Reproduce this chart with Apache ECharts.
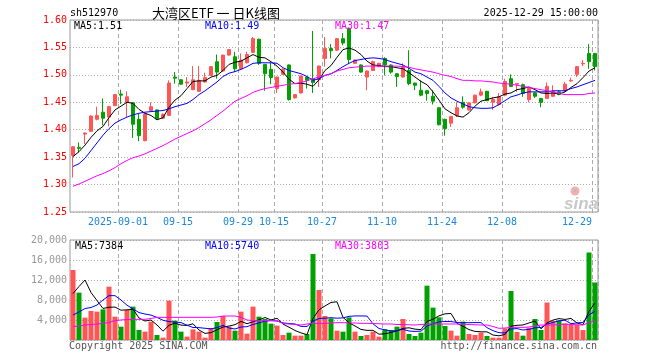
<!DOCTYPE html>
<html><head><meta charset="utf-8">
<script src="https://cdn.jsdelivr.net/npm/echarts@6/dist/echarts.min.js"></script>
<style>html,body{margin:0;padding:0;background:#fff}#c{width:660px;height:360px}</style>
</head><body><div id="c"></div>
<script>
const dates = ['2025-08-20','2025-08-21','2025-08-22','2025-08-25','2025-08-26','2025-08-27','2025-08-28','2025-08-29',
'2025-09-01','2025-09-02','2025-09-03','2025-09-04','2025-09-05','2025-09-08','2025-09-09','2025-09-10','2025-09-11','2025-09-12',
'2025-09-15','2025-09-16','2025-09-17','2025-09-18','2025-09-19','2025-09-22','2025-09-23','2025-09-24','2025-09-25','2025-09-26',
'2025-09-29','2025-09-30','2025-10-09','2025-10-10','2025-10-13','2025-10-14','2025-10-15','2025-10-16','2025-10-17','2025-10-20',
'2025-10-21','2025-10-22','2025-10-23','2025-10-24','2025-10-27','2025-10-28','2025-10-29','2025-10-30','2025-10-31','2025-11-03',
'2025-11-04','2025-11-05','2025-11-06','2025-11-07','2025-11-10','2025-11-11','2025-11-12','2025-11-13','2025-11-14','2025-11-17',
'2025-11-18','2025-11-19','2025-11-20','2025-11-21','2025-11-24','2025-11-25','2025-11-26','2025-11-27','2025-11-28','2025-12-01',
'2025-12-02','2025-12-03','2025-12-04','2025-12-05','2025-12-08','2025-12-09','2025-12-10','2025-12-11','2025-12-12','2025-12-15',
'2025-12-16','2025-12-17','2025-12-18','2025-12-19','2025-12-22','2025-12-23','2025-12-24','2025-12-25','2025-12-26','2025-12-29'];

const open = [1.353,1.368,1.392,1.397,1.419,1.432,1.423,1.444,1.465,1.450,
1.449,1.419,1.380,1.435,1.436,1.421,1.426,1.496,1.491,1.485,
1.473,1.470,1.487,1.499,1.524,1.507,1.536,1.533,1.511,1.522,
1.541,1.565,1.519,1.510,1.475,1.501,1.518,1.458,1.467,1.496,
1.493,1.491,1.530,1.548,1.545,1.566,1.585,1.521,1.518,1.496,
1.508,1.515,1.530,1.518,1.502,1.496,1.508,1.485,1.472,1.471,
1.461,1.440,1.419,1.412,1.426,1.450,1.436,1.449,1.463,1.470,
1.450,1.446,1.463,1.493,1.483,1.482,1.455,1.467,1.457,1.457,
1.461,1.469,1.471,1.489,1.501,1.520,1.539,1.539];
const close = [1.369,1.366,1.394,1.425,1.426,1.421,1.442,1.464,1.463,1.460,
1.410,1.389,1.429,1.442,1.420,1.428,1.485,1.494,1.483,1.487,
1.491,1.490,1.495,1.515,1.505,1.536,1.546,1.511,1.527,1.537,
1.566,1.521,1.502,1.495,1.496,1.510,1.455,1.464,1.498,1.490,
1.486,1.516,1.548,1.544,1.566,1.558,1.528,1.527,1.505,1.507,
1.524,1.521,1.518,1.505,1.497,1.515,1.484,1.481,1.463,1.466,
1.452,1.409,1.402,1.424,1.440,1.441,1.449,1.463,1.469,1.453,
1.455,1.460,1.488,1.479,1.484,1.466,1.475,1.461,1.450,1.479,
1.470,1.464,1.483,1.490,1.515,1.521,1.524,1.515];
const low = [1.313,1.359,1.374,1.396,1.417,1.408,1.406,1.443,1.447,1.423,
1.385,1.379,1.379,1.434,1.419,1.420,1.426,1.484,1.482,1.478,
1.472,1.469,1.486,1.498,1.493,1.506,1.535,1.505,1.510,1.521,
1.540,1.518,1.471,1.483,1.467,1.500,1.453,1.457,1.466,1.475,
1.467,1.478,1.515,1.530,1.544,1.554,1.521,1.520,1.504,1.472,
1.507,1.514,1.499,1.502,1.478,1.495,1.481,1.472,1.461,1.453,
1.446,1.408,1.389,1.405,1.423,1.438,1.435,1.448,1.461,1.452,
1.436,1.444,1.461,1.478,1.469,1.460,1.450,1.458,1.441,1.456,
1.460,1.463,1.469,1.487,1.496,1.516,1.511,1.508];
const high = [1.369,1.377,1.395,1.426,1.442,1.457,1.443,1.465,1.473,1.470,
1.450,1.429,1.430,1.450,1.437,1.430,1.490,1.505,1.492,1.496,
1.516,1.516,1.504,1.516,1.537,1.537,1.547,1.542,1.539,1.542,
1.569,1.566,1.520,1.522,1.497,1.512,1.519,1.465,1.499,1.497,
1.580,1.517,1.569,1.556,1.567,1.576,1.586,1.528,1.519,1.508,
1.526,1.522,1.532,1.519,1.503,1.521,1.545,1.486,1.490,1.472,
1.472,1.441,1.420,1.425,1.450,1.461,1.450,1.464,1.475,1.471,
1.460,1.467,1.493,1.501,1.485,1.484,1.476,1.468,1.458,1.486,
1.481,1.472,1.487,1.495,1.516,1.527,1.556,1.540];

const ma5 = [1.351,1.360,1.372,1.386,1.398,1.406,1.422,1.436,1.443,1.450,
1.448,1.437,1.430,1.426,1.418,1.422,1.441,1.454,1.462,1.475,
1.488,1.489,1.489,1.496,1.499,1.508,1.519,1.523,1.525,1.531,
1.537,1.532,1.531,1.524,1.516,1.505,1.492,1.484,1.485,1.483,
1.479,1.491,1.508,1.517,1.532,1.546,1.549,1.545,1.537,1.525,
1.518,1.517,1.515,1.515,1.513,1.511,1.504,1.496,1.488,1.482,
1.469,1.454,1.438,1.431,1.425,1.423,1.431,1.443,1.452,1.455,
1.458,1.460,1.465,1.467,1.473,1.475,1.478,1.473,1.467,1.466,
1.467,1.465,1.469,1.477,1.484,1.495,1.507,1.513];
const ma10 = [1.333,1.338,1.348,1.362,1.376,1.390,1.402,1.412,1.418,1.423,
1.427,1.430,1.432,1.433,1.434,1.435,1.438,1.442,1.445,1.448,
1.455,1.464,1.471,1.479,1.487,1.497,1.503,1.506,1.510,1.515,
1.521,1.522,1.522,1.522,1.521,1.513,1.508,1.505,1.502,1.497,
1.490,1.493,1.499,1.502,1.508,1.515,1.521,1.526,1.528,1.530,
1.531,1.530,1.528,1.524,1.521,1.518,1.512,1.505,1.502,1.496,
1.490,1.479,1.467,1.458,1.452,1.447,1.442,1.440,1.439,1.439,
1.440,1.446,1.453,1.460,1.463,1.467,1.469,1.469,1.469,1.469,
1.471,1.471,1.471,1.475,1.478,1.482,1.486,1.490];
const ma30 = [1.297,1.301,1.306,1.311,1.316,1.320,1.325,1.331,1.338,1.344,
1.349,1.352,1.356,1.361,1.366,1.371,1.377,1.383,1.388,1.393,
1.398,1.404,1.411,1.418,1.426,1.434,1.443,1.452,1.457,1.462,
1.468,1.472,1.475,1.477,1.479,1.481,1.483,1.484,1.486,1.489,
1.493,1.496,1.499,1.502,1.507,1.510,1.513,1.514,1.515,1.516,
1.516,1.516,1.516,1.516,1.516,1.515,1.514,1.511,1.509,1.507,
1.505,1.502,1.499,1.497,1.493,1.490,1.490,1.489,1.489,1.488,
1.487,1.485,1.484,1.483,1.481,1.479,1.477,1.475,1.473,1.471,
1.469,1.466,1.464,1.464,1.464,1.464,1.466,1.467];

const volume = [14000,9470,4470,5800,5670,6130,10670,4670,2670,6000,
6670,2000,1670,3670,1000,470,7870,3870,1670,670,
2130,1670,470,2400,3600,4800,2670,1870,5670,1270,
6670,4670,4200,3270,2870,1000,1470,870,870,1200,
17200,10000,4800,4330,1870,1670,4530,1670,800,1000,
1670,670,2130,2000,2670,4200,1200,800,1470,10870,
6470,4530,2800,1870,870,3670,1200,1000,1470,800,
470,470,2330,9800,1600,870,2470,4200,2000,7500,
3800,3900,3330,3000,3000,2000,17500,11500];
const volMa5 = [9300,10700,12000,9500,7880,6310,6550,6590,5960,6030,
6140,4400,3800,4000,3000,1760,2940,3380,2980,2910,
3240,2000,1320,1470,2050,2590,2790,3070,3720,3260,
3630,4030,4500,4020,4340,3200,2560,1900,1420,1080,
4320,6030,6810,7510,7640,4530,3440,2810,2110,1930,
1930,1160,1250,1490,1830,2330,2440,2170,2070,3710,
4160,4830,5230,5310,3310,2750,2080,1720,1640,1630,
990,840,1110,2770,2930,3010,3410,3790,2230,3410,
3990,4280,4110,4310,3410,3050,5770,7384];
const volMa10 = [5000,5600,6300,6500,7000,8000,8870,8870,8000,6960,
6220,5480,5200,4980,4520,3950,3670,3590,3490,2960,
2500,2470,2350,2220,2480,2920,2400,2200,2600,2660,
3110,3410,3780,3870,3800,3420,3300,3200,2720,2710,
3760,4300,4360,4460,4360,4430,4730,4810,4810,4790,
3230,2300,2030,1800,1880,2130,1800,1710,1780,2770,
3250,3630,3700,3690,3510,3460,3460,3480,3480,2470,
1870,1460,1420,2210,2280,2000,2130,2450,2500,3170,
3500,3850,3950,3270,3410,3520,5020,5740];
const volMa30 = [2670,2800,3000,3100,3200,3330,3500,3870,4000,4100,
4130,4130,4130,4300,4530,4530,4530,4530,4530,4530,
4530,4530,4530,4530,4600,4800,4800,4800,4530,4000,
3870,3870,3870,3870,3870,3300,3200,3100,3000,3200,
3300,3330,3330,3400,3470,3470,3400,3400,3330,3330,
3300,3250,3200,3200,3100,3100,3050,3000,3100,3200,
3200,3200,3200,3200,3200,3150,3100,3050,3000,3000,
2700,2330,2400,2530,2530,2530,2600,2800,3000,3000,
3000,3100,3150,3100,3050,3000,3500,3803];

const xTickDates = ['2025-09-01','2025-09-15','2025-09-29','2025-10-15','2025-10-27','2025-11-10','2025-11-24','2025-12-08','2025-12-29'];
const xTickLabels = ['2025-09-01','09-15','09-29','10-15','10-27','11-10','11-24','12-08','12-29'];
const priceTicks = [1.25,1.30,1.35,1.40,1.45,1.50,1.55,1.60];
const volumeTicks = [0,4000,8000,12000,16000,20000];
const legendPrice = ['MA5:1.51','MA10:1.49','MA30:1.47'];
const legendVolume = ['MA5:7384','MA10:5740','MA30:3803'];
const symbolText = 'sh512970';
const titleText = '大湾区ETF 一 日K线图';
const timeText = '2025-12-29 15:00:00';

const MONO = '"DejaVu Sans Mono", monospace';
const RED = '#ff5555', GREEN = '#00a000';
const maColors = ['#000000', '#0000ff', '#ff00ff'];
const tickIdx = xTickDates.map(d => dates.indexOf(d));
const tickSet = new Set(tickIdx);
const lastTick = tickIdx[tickIdx.length - 1];

const candleData = dates.map((d, i) => [open[i], close[i], low[i], high[i]]);
const volData = volume.map((v, i) => ({ value: v, itemStyle: { color: close[i] >= open[i] ? RED : GREEN } }));

const GL = 70, GW = 528;
const splitX = { show: true, interval: (i) => tickSet.has(i), lineStyle: { color: '#aaa', type: [4, 3], width: 1 } };
const splitY = { show: true, lineStyle: { color: '#aaa', type: [1, 2], width: 1 } };

function lineSeries(data, color, g) {
  return { type: 'line', xAxisIndex: g, yAxisIndex: g, data, symbol: 'none', silent: true,
    lineStyle: { color, width: 1 }, itemStyle: { color }, z: 3 };
}
function txt(x, y, text, color, align, font) {
  return { type: 'text', x, y, silent: true, z: 100,
    style: { text, fill: color, font: font || ('10px ' + MONO), align, verticalAlign: 'middle',
      textAlign: align, textVerticalAlign: 'middle' } };
}

const chart = echarts.init(document.getElementById('c'));
chart.setOption({
  animation: false,
  backgroundColor: '#fff',
  textStyle: { fontFamily: MONO },
  grid: [
    { left: GL, top: 20, width: GW, height: 192, show: true, borderColor: '#999', borderWidth: 1, backgroundColor: 'transparent' },
    { left: GL, top: 240, width: GW, height: 100, show: true, borderColor: '#999', borderWidth: 1, backgroundColor: 'transparent' }
  ],
  xAxis: [
    { type: 'category', gridIndex: 0, data: dates, boundaryGap: true,
      axisLine: { show: false }, axisTick: { show: false },
      axisLabel: { show: true, interval: (i) => tickSet.has(i), color: '#1a88dd', fontFamily: MONO, fontSize: 10, margin: 5,
        formatter: (val, i) => {
          const k = xTickDates.indexOf(val);
          const t = k >= 0 ? xTickLabels[k] : '';
          return (dates.indexOf(val) === lastTick ? '{r|' : '{c|') + t + '}';
        },
        rich: {
          c: { padding: [0, 6, 0, 0], color: '#1a88dd', fontFamily: MONO, fontSize: 10 },
          r: { padding: [0, 36, 0, 0], color: '#1a88dd', fontFamily: MONO, fontSize: 10 }
        } },
      splitLine: splitX },
    { type: 'category', gridIndex: 1, data: dates, boundaryGap: true,
      axisLine: { show: false }, axisTick: { show: false }, axisLabel: { show: false },
      splitLine: splitX }
  ],
  yAxis: [
    { type: 'value', gridIndex: 0, min: priceTicks[0], max: priceTicks[priceTicks.length - 1], interval: 0.05, scale: true,
      axisLine: { show: false }, axisTick: { show: false },
      axisLabel: { color: '#ff0000', fontFamily: MONO, fontSize: 10, margin: 3, formatter: v => v.toFixed(2) },
      splitLine: splitY },
    { type: 'value', gridIndex: 1, min: volumeTicks[0], max: volumeTicks[volumeTicks.length - 1], interval: 4000,
      axisLine: { show: false }, axisTick: { show: false },
      axisLabel: { color: '#999', fontFamily: MONO, fontSize: 10, margin: 3, showMinLabel: false },
      splitLine: splitY }
  ],
  series: [
    { type: 'candlestick', xAxisIndex: 0, yAxisIndex: 0, data: candleData, barWidth: 4, silent: true,
      itemStyle: { color: RED, color0: GREEN, borderColor: RED, borderColor0: GREEN, borderWidth: 1 } },
    lineSeries(ma5, maColors[0], 0),
    lineSeries(ma10, maColors[1], 0),
    lineSeries(ma30, maColors[2], 0),
    { type: 'bar', xAxisIndex: 1, yAxisIndex: 1, data: volData, barWidth: 5, silent: true },
    lineSeries(volMa5, maColors[0], 1),
    lineSeries(volMa10, maColors[1], 1),
    lineSeries(volMa30, maColors[2], 1)
  ],
  graphic: [
    txt(70, 13, symbolText, '#000', 'left'),
    txt(216, 13, titleText, '#000', 'center', '13px "Noto Sans CJK SC"'),
    txt(598, 13, timeText, '#000', 'right'),
    txt(74, 26, legendPrice[0], maColors[0], 'left'),
    txt(205, 26, legendPrice[1], maColors[1], 'left'),
    txt(335, 26, legendPrice[2], maColors[2], 'left'),
    txt(75, 246, legendVolume[0], maColors[0], 'left'),
    txt(205, 246, legendVolume[1], maColors[1], 'left'),
    txt(335, 246, legendVolume[2], maColors[2], 'left'),
    txt(69, 346, 'Copyright 2025 SINA.COM', '#555', 'left'),
    txt(597, 346, 'http://finance.sina.com.cn', '#555', 'right'),
    { type: 'circle', shape: { cx: 575, cy: 191, r: 4.5 }, style: { fill: '#f4b0b0' }, silent: true, z: 1 },
    { type: 'circle', shape: { cx: 575, cy: 191, r: 1.6 }, style: { fill: '#bbb' }, silent: true, z: 1 },
    txt(581, 204, 'sina', '#c8c8c8', 'center', 'italic bold 17px "Liberation Sans"')
  ]
});
</script></body></html>
